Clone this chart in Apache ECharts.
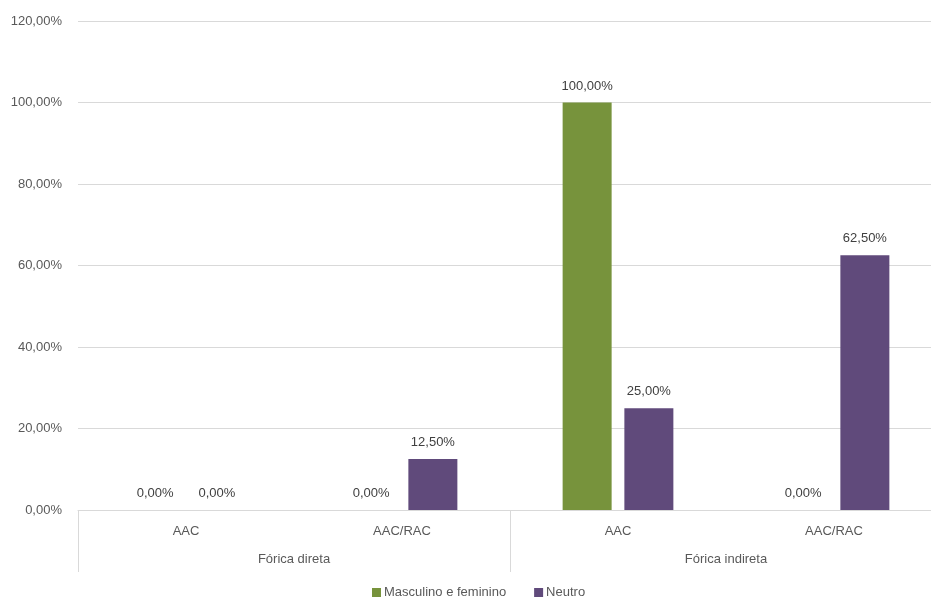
<!DOCTYPE html>
<html>
<head>
<meta charset="utf-8">
<script src="https://cdn.jsdelivr.net/npm/echarts@6/dist/echarts.min.js"></script>
<style>
  html, body { margin: 0; padding: 0; background: #ffffff; overflow: hidden; }
  #chart { width: 943px; height: 600px; }
</style>
</head>
<body>
<div id="chart"></div>
<script>
// Sub-level and group-level categories of the two-tier x axis
const subCategories = ['AAC', 'AAC/RAC', 'AAC', 'AAC/RAC'];
const groupCategories = ['Fórica direta', 'Fórica indireta'];

// Series values in percent
const seriesNames = ['Masculino e feminino', 'Neutro'];
const masculinoFeminino = [0, 0, 100, 0];
const neutro = [0, 12.5, 25, 62.5];

// Y axis ticks
const yMin = 0, yMax = 120, yStep = 20;

const fmt = v => v.toFixed(2).replace('.', ',') + '%';
const textColor = '#595959';
const fontFamily = "'Liberation Sans', Arial, sans-serif";
const fontSize = 13;

const chart = echarts.init(document.getElementById('chart'), null, { renderer: 'canvas' });

const labelStyle = {
  show: true,
  position: 'top',
  distance: 10,
  color: '#404040',
  fontSize: fontSize,
  fontFamily: fontFamily,
  formatter: p => fmt(p.value)
};

chart.setOption({
  animation: false,
  backgroundColor: '#ffffff',
  grid: { left: 78, top: 21, width: 864, height: 489, containLabel: false },
  legend: {
    top: 581,
    left: 367,
    itemWidth: 9,
    itemHeight: 9,
    itemGap: 28,
    icon: 'rect',
    textStyle: { color: textColor, fontSize: fontSize, fontFamily: fontFamily, padding: [0, 0, 0, -2] },
    data: seriesNames
  },
  xAxis: [
    {
      type: 'category',
      data: subCategories,
      position: 'bottom',
      axisLine: { show: true, lineStyle: { color: '#d9d9d9', width: 1 } },
      axisTick: { show: false },
      axisLabel: { color: textColor, fontSize: fontSize, fontFamily: fontFamily, margin: 15, interval: 0 }
    },
    {
      type: 'category',
      data: groupCategories,
      position: 'bottom',
      axisLine: { show: false },
      axisTick: { show: true, length: 62, interval: 0, lineStyle: { color: '#d9d9d9', width: 1 } },
      axisLabel: { color: textColor, fontSize: fontSize, fontFamily: fontFamily, margin: 43, interval: 0 }
    }
  ],
  yAxis: {
    type: 'value',
    min: yMin,
    max: yMax,
    interval: yStep,
    axisLine: { show: false },
    axisTick: { show: false },
    splitLine: { lineStyle: { color: '#d9d9d9', width: 1 } },
    axisLabel: { color: textColor, fontSize: fontSize, fontFamily: fontFamily, margin: 16, formatter: v => fmt(v) }
  },
  series: [
    {
      name: seriesNames[0],
      type: 'bar',
      xAxisIndex: 0,
      data: masculinoFeminino,
      barWidth: 49,
      barGap: '26%',
      itemStyle: { color: '#77933C' },
      label: labelStyle
    },
    {
      name: seriesNames[1],
      type: 'bar',
      xAxisIndex: 0,
      data: neutro,
      barWidth: 49,
      barGap: '26%',
      itemStyle: { color: '#604A7B' },
      label: labelStyle
    }
  ]
});
</script>
</body>
</html>
